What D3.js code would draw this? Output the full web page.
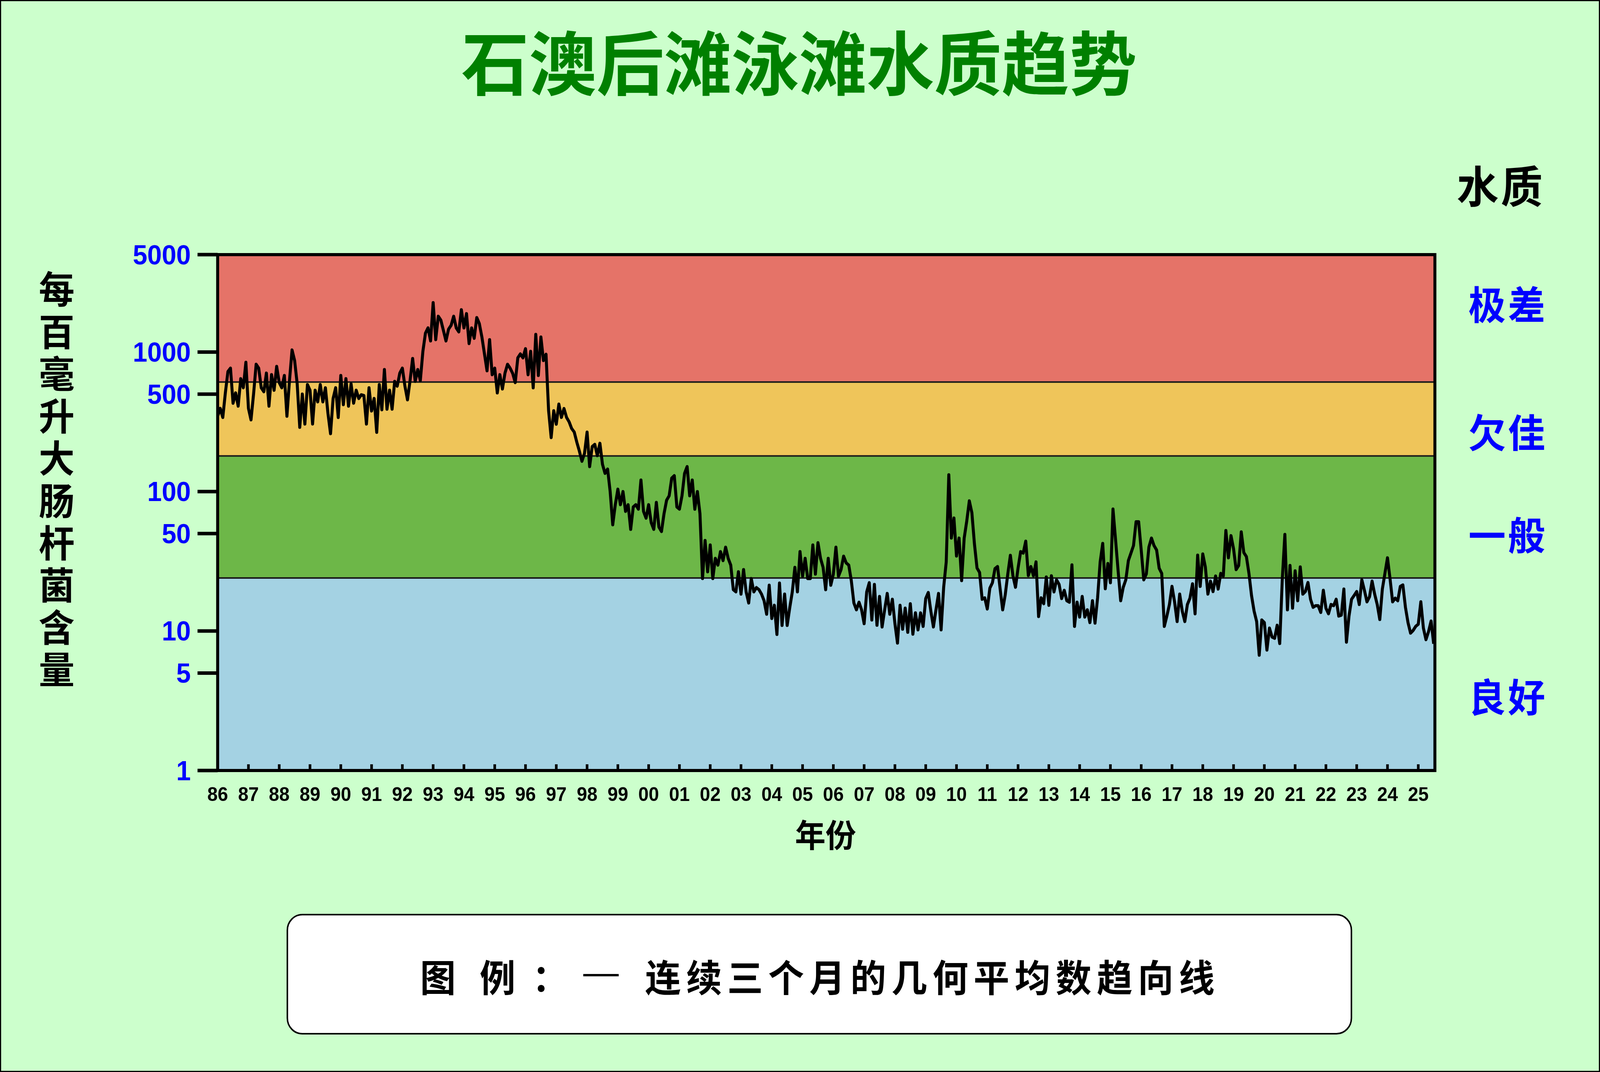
<!DOCTYPE html>
<html>
<head>
<meta charset="utf-8">
<script src="https://cdn.jsdelivr.net/npm/d3@7"></script>
<style>
  html, body { margin: 0; padding: 0; width: 100%; height: 100%; background: #ccffcc; overflow: hidden; }
  svg { display: block; width: 100vw; height: 100vh; }
  .cjk { font-family: "Noto Sans CJK SC", sans-serif; font-weight: 700; }
  .num { font-family: "Liberation Sans", Arial, sans-serif; font-weight: 700; }
  .vert { writing-mode: vertical-rl; text-orientation: upright; }
</style>
</head>
<body>
<svg id="chart" viewBox="0 0 4293 2745" preserveAspectRatio="none"></svg>
<script>
// monthly 3-month geometric mean (E. coli per 100 mL), starting Jan 1986
const startYear = 1986;
const valuesTo1996 = [
  347, 395, 340, 510, 725, 767, 430, 510, 410, 645, 555, 845,
  395, 327, 500, 818, 767, 555, 520, 707, 410, 690, 533, 790,
  605, 555, 680, 347, 625, 1036, 870, 593, 289, 500, 305, 585,
  533, 305, 533, 440, 585, 440, 555, 363, 260, 465, 555, 340,
  680, 420, 645, 410, 593, 430, 533, 465, 495, 488, 305, 555,
  378, 465, 266, 585, 386, 750, 390, 533, 390, 617, 570, 707,
  767, 570, 455, 625, 900, 617, 750, 625, 1013, 1368, 1491, 1203,
  2264, 1229, 1807, 1696, 1428, 1203, 1459, 1556, 1807, 1491, 1398, 2013,
  1491, 1887, 1152, 1491, 1256, 1769, 1600, 1283, 971, 735, 1229, 689,
  767, 510, 689, 544, 707, 818, 767, 704, 605, 910, 971, 910,
  1058, 689, 1013, 555, 1339, 680, 1283, 870, 965
];
const valuesTo2006 = [
  380, 244, 380, 304, 424, 340, 394, 340, 316, 283, 267,
  226, 195, 165, 188, 267, 151, 210, 218, 181, 222, 157, 135,
  145, 100, 57.8, 80.5, 104, 80.5, 100, 72.1, 80.5, 53.6, 77.6, 80.5,
  74.8, 121, 72.1, 64.5, 80.5, 59.9, 53.6, 83.6, 55.7, 51.7, 69.5, 86.7,
  93.3, 125, 130, 77.6, 74.8, 93.3, 135, 151, 93.3, 121, 74.8, 100,
  69.5, 23.8, 44.6, 26.6, 41.4, 23.8, 33.2, 29.7, 37.1, 32.0, 39.9, 33.2,
  29.7, 19.8, 19.1, 26.6, 18.4, 27.6, 19.1, 15.9, 23.8, 19.1, 20.5, 19.8,
  18.4, 16.5, 13.2, 21.3, 12.3, 15.3, 9.46, 22.1, 10.97, 18.4, 10.97, 14.7,
  19.1, 28.6, 19.1, 37.1, 24.7, 33.2, 23.8, 23.8, 41.4, 25.6, 43.0, 33.2,
  28.6, 19.8, 33.2, 21.3, 25.6, 39.9, 24.7, 27.6, 34.4, 30.8, 29.7, 22.96,
  15.9, 14.2
];
const valuesTo2016 = [
  16.1, 14.2, 11.3, 19.1, 22.2, 12.0, 21.6, 11.0, 17.7, 10.7, 14.2,
  18.6, 13.2, 16.9, 11.3, 8.2, 15.3, 10.3, 14.6, 9.8, 15.7, 9.5, 13.5,
  10.2, 13.5, 10.8, 17.1, 18.9, 13.9, 10.7, 14.2, 18.6, 10.2, 20.6, 31.3,
  132, 46.4, 64.6, 34.5, 46.4, 23.0, 46.4, 61.5, 85.8, 70.4, 42.0, 28.3,
  26.3, 16.9, 17.3, 14.4, 20.3, 22.2, 28.0, 29.0, 20.1, 14.2, 18.2, 25.7,
  34.9, 24.9, 20.6, 28.3, 37.1, 36.2, 44.1, 25.0, 29.0, 24.9, 31.3, 12.7,
  17.3, 15.7, 24.4, 15.3, 24.9, 19.1, 23.3, 21.6, 17.1, 19.6, 16.5, 16.1,
  29.8, 10.8, 16.1, 12.6, 17.7, 12.6, 14.2, 11.5, 16.5, 11.4, 17.3, 31.3,
  42.5, 20.1, 30.5, 22.2, 74.9, 45.2, 27.0, 16.5, 20.6, 23.3, 32.0, 36.2,
  41.0, 60.8, 60.8, 38.1, 23.3, 25.7, 40.0, 46.4, 41.0
];
const valuesTo2025 = [
  38.1, 28.2, 25.9, 10.8, 12.8, 15.5, 20.9, 16.2, 11.7, 18.4, 13.9, 11.7,
  15.5, 17.2, 21.8, 13.3, 35.0, 20.9, 35.7, 28.8, 18.4, 22.8, 19.2, 24.8,
  20.0, 25.9, 24.8, 52.6, 33.5, 48.3, 38.9, 27.6, 29.5, 51.4, 36.5, 34.2,
  25.9, 18.0, 13.9, 11.7, 6.71, 12.0, 11.5, 7.31, 10.5, 9.06, 8.87, 11.0,
  8.14, 23.7, 49.3, 14.2, 29.5, 14.6, 27.0, 16.5, 28.8, 18.4, 19.2, 22.3,
  16.9, 14.8, 15.2, 15.2, 13.6, 19.6, 14.6, 13.3, 15.5, 15.2, 16.9, 12.8,
  13.0, 20.0, 8.32, 12.8, 16.9, 18.0, 19.2, 15.5, 23.3, 19.6, 16.2, 17.6,
  22.8, 18.4, 15.5, 12.1, 20.0, 25.9, 33.5, 23.7, 16.2, 17.2, 16.5, 20.9,
  21.4, 14.8, 11.5, 9.66, 10.1, 10.8, 11.2, 16.2, 10.5, 8.68, 9.9, 11.8,
  8.1
];

// grading bands (upper limits) and labels
const gradeBreaks = [1, 24, 180, 610, 5000];
const gradeColors = ["#a4d2e3", "#6db748", "#efc55a", "#e57368"];
const gradeLabels = ["良好", "一般", "欠佳", "极差"];
const yTicks = [1, 5, 10, 50, 100, 500, 1000, 5000];
const yearTicks = d3.range(1986, 2026);
const yearLabels = ["86","87","88","89","90","91","92","93","94","95","96","97","98","99",
  "00","01","02","03","04","05","06","07","08","09","10","11","12","13","14","15",
  "16","17","18","19","20","21","22","23","24","25"];
const yTitle = "每百毫升大肠杆菌含量";

const allValues = valuesTo1996.concat(valuesTo2006, valuesTo2016, valuesTo2025);
const series = allValues.map((v, i) => ({ year: startYear + i / 12, value: v }));

let svg = d3.select("#chart");
let plotLeft = 584, plotRight = 3850, plotTop = 652, plotBottom = 1973;

svg.append("rect").attr("x", 1.5).attr("y", 1.5).attr("width", 4290).attr("height", 2742)
  .attr("fill", "#ccffcc").attr("stroke", "#000").attr("stroke-width", 3);

let xScale = d3.scaleLinear().domain([1986, 2025.54]).range([plotLeft, plotRight]);
let yScale = d3.scaleLog().domain([1, 5000]).range([plotBottom, plotTop]);

// title
svg.append("text").attr("class", "cjk")
  .attr("x", 1238).attr("y", 152).attr("dominant-baseline", "central")
  .attr("textLength", 1812).attr("lengthAdjust", "spacingAndGlyphs")
  .attr("font-size", 178).attr("fill", "#008000")
  .text("石澳后滩泳滩水质趋势");

// bands
let bands = svg.append("g");
gradeColors.forEach(function (c, i) {
  bands.append("rect")
    .attr("x", plotLeft).attr("width", plotRight - plotLeft)
    .attr("y", yScale(gradeBreaks[i + 1]))
    .attr("height", yScale(gradeBreaks[i]) - yScale(gradeBreaks[i + 1]))
    .attr("fill", c);
});
bands.selectAll("line.brk").data(gradeBreaks.slice(1, 4)).enter().append("line")
  .attr("x1", plotLeft).attr("x2", plotRight)
  .attr("y1", d => yScale(d)).attr("y2", d => yScale(d))
  .attr("stroke", "#1a1a1a").attr("stroke-width", 4);

// trend line
svg.append("clipPath").attr("id", "plotClip").append("rect")
  .attr("x", plotLeft).attr("y", plotTop)
  .attr("width", plotRight - plotLeft).attr("height", plotBottom - plotTop);
let line = d3.line().x(d => xScale(d.year)).y(d => yScale(d.value));
svg.append("path").datum(series)
  .attr("clip-path", "url(#plotClip)")
  .attr("d", line)
  .attr("fill", "none").attr("stroke", "#000").attr("stroke-width", 8)
  .attr("stroke-linejoin", "round");

// frame
svg.append("rect").attr("x", plotLeft).attr("y", plotTop)
  .attr("width", plotRight - plotLeft).attr("height", plotBottom - plotTop)
  .attr("fill", "none").attr("stroke", "#000").attr("stroke-width", 8);

// y axis ticks + labels
let yAxis = svg.append("g");
yAxis.selectAll("line").data(yTicks).enter().append("line")
  .attr("x1", 530).attr("x2", plotLeft)
  .attr("y1", d => yScale(d)).attr("y2", d => yScale(d))
  .attr("stroke", "#000").attr("stroke-width", 9);
yAxis.selectAll("text").data(yTicks).enter().append("text")
  .attr("class", "num")
  .attr("x", 512).attr("y", d => yScale(d))
  .attr("text-anchor", "end").attr("dominant-baseline", "central")
  .attr("font-size", 70).attr("fill", "#0000ff")
  .text(d => d);

// x axis ticks (inward) + labels
let xAxis = svg.append("g");
xAxis.selectAll("line").data(yearTicks.slice(1)).enter().append("line")
  .attr("x1", d => xScale(d)).attr("x2", d => xScale(d))
  .attr("y1", plotBottom).attr("y2", plotBottom - 16)
  .attr("stroke", "#000").attr("stroke-width", 7);
xAxis.selectAll("text").data(yearTicks).enter().append("text")
  .attr("class", "num")
  .attr("x", d => xScale(d)).attr("y", 2034)
  .attr("text-anchor", "middle").attr("dominant-baseline", "central")
  .attr("font-size", 50).attr("fill", "#000")
  .text((d, i) => yearLabels[i]);

svg.append("text").attr("class", "cjk")
  .attr("x", 2215).attr("y", 2133).attr("text-anchor", "middle").attr("dominant-baseline", "central")
  .attr("font-size", 82).attr("fill", "#000").text("年份");

// y axis title, written top to bottom
svg.append("text").attr("class", "cjk vert")
  .attr("x", 152).attr("y", 692)
  .attr("textLength", 1070).attr("lengthAdjust", "spacing")
  .attr("font-size", 96).attr("fill", "#000")
  .text(yTitle);

// right side: water quality grades
svg.append("text").attr("class", "cjk")
  .attr("x", 4027).attr("y", 471).attr("text-anchor", "middle").attr("dominant-baseline", "central")
  .attr("font-size", 112).attr("fill", "#000").attr("letter-spacing", 6).text("水质");
let labelY = [1780, 1366, 1103, 775];
svg.append("g").selectAll("text").data(gradeLabels).enter().append("text")
  .attr("class", "cjk")
  .attr("x", 4046).attr("y", (d, i) => labelY[i])
  .attr("text-anchor", "middle").attr("dominant-baseline", "central")
  .attr("font-size", 100).attr("fill", "#0000ff").attr("letter-spacing", 6)
  .text(d => d);

// legend box
let legend = svg.append("g");
legend.append("rect").attr("x", 771).attr("y", 2342).attr("width", 2855).attr("height", 305)
  .attr("rx", 40).attr("ry", 40)
  .attr("fill", "#fff").attr("stroke", "#000").attr("stroke-width", 4);
[["图", 1175], ["例", 1335], ["：", 1476]].forEach(function (p) {
  legend.append("text").attr("class", "cjk")
    .attr("x", p[1]).attr("y", 2497).attr("text-anchor", "middle").attr("dominant-baseline", "central")
    .attr("font-size", 96).attr("fill", "#000").text(p[0]);
});
legend.append("line").attr("x1", 1565).attr("x2", 1660).attr("y1", 2497).attr("y2", 2497)
  .attr("stroke", "#000").attr("stroke-width", 6);
legend.append("text").attr("class", "cjk")
  .attr("x", 1731).attr("y", 2497).attr("dominant-baseline", "central")
  .attr("textLength", 1528).attr("lengthAdjust", "spacing")
  .attr("font-size", 96).attr("fill", "#000")
  .text("连续三个月的几何平均数趋向线");
</script>
</body>
</html>
